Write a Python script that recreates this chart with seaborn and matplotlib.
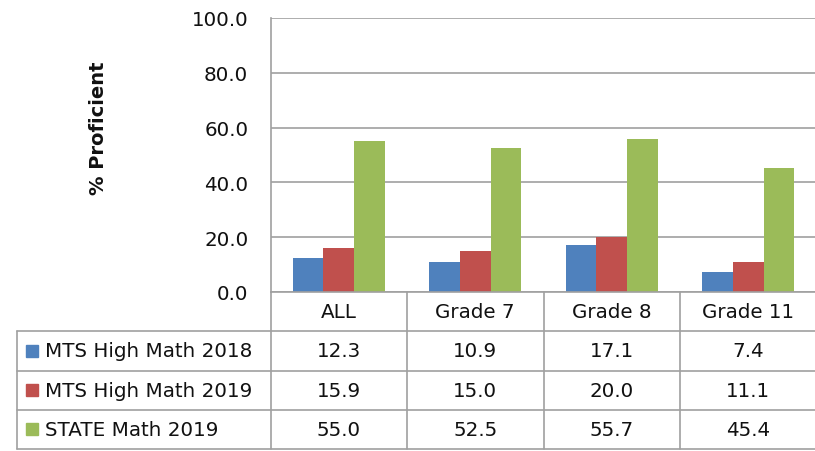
import pandas as pd
import matplotlib
matplotlib.use("Agg")
import matplotlib.pyplot as plt
import seaborn as sns

# data
categories = ['ALL', 'Grade 7', 'Grade 8', 'Grade 11']
series = ['MTS High Math 2018', 'MTS High Math 2019', 'STATE Math 2019']
mts_2018 = [12.3, 10.9, 17.1, 7.4]
mts_2019 = [15.9, 15.0, 20.0, 11.1]
state_2019 = [55.0, 52.5, 55.7, 45.4]
colors = ['#4F81BD', '#C0504D', '#9BBB59']
yticks = [0, 20, 40, 60, 80, 100]

values = [mts_2018, mts_2019, state_2019]
df = pd.DataFrame({
    'Category': [c for s in series for c in categories],
    'Series': [s for s in series for c in categories],
    'Value': [v for vals in values for v in vals],
})

sns.set_theme(style="white")
plt.rcParams['font.family'] = ['DejaVu Sans']
grid_c = '#A0A0A0'
txt_c = '#111111'
fs = 14.3

W, H = 815, 452
fig = plt.figure(figsize=(W / 100, H / 100), dpi=100)

# plot area in pixels
left_px, right_px, top_px, bot_px = 270.5, 816.5, 19, 293
ax = fig.add_axes([left_px / W, 1 - bot_px / H, (right_px - left_px) / W, (bot_px - top_px) / H])
sns.barplot(data=df, x='Category', y='Value', hue='Series', order=categories,
            hue_order=series, palette=colors, width=0.675, gap=0,
            saturation=1, linewidth=0, legend=False, ax=ax)
ax.set_xlim(-0.5, 3.5)
ax.set_ylim(0, 100)
ax.set_yticks(yticks)
ax.set_yticklabels([f'{t:.1f}' for t in yticks], fontsize=fs, color=txt_c)
ax.tick_params(axis='y', length=0, pad=16)
ax.set_xticks([])
ax.set_xlabel('')
ax.set_ylabel('% Proficient', fontsize=14, fontweight='bold', color=txt_c)
ax.yaxis.set_label_coords((108 - left_px) / (right_px - left_px), (bot_px - 128) / (bot_px - top_px))
ax.grid(axis='y', color=grid_c, linewidth=1.2)
ax.set_axisbelow(True)
for side in ['top', 'right']:
    ax.spines[side].set_visible(False)
for side in ['left', 'bottom']:
    ax.spines[side].set_color(grid_c)
    ax.spines[side].set_linewidth(1.2)

# data table below the plot
tab_left, tab_bot = 17, 450
unit = (right_px - left_px) / 4
x0 = -0.5 - (left_px - tab_left) / unit
tab = fig.add_axes([tab_left / W, 1 - tab_bot / H, (right_px - tab_left) / W, (tab_bot - bot_px) / H])
tab.set_xlim(x0, 3.5)
tab.set_ylim(4, 0)
tab.axis('off')

lw = 1.2
for xb in [-0.5, 0.5, 1.5, 2.5, 3.5]:
    tab.plot([xb, xb], [0, 4], color=grid_c, lw=lw, clip_on=False)
tab.plot([x0, x0], [1, 4], color=grid_c, lw=lw, clip_on=False)
for yb in [1, 2, 3, 4]:
    tab.plot([x0, 3.5], [yb, yb], color=grid_c, lw=lw, clip_on=False)

for i, cat in enumerate(categories):
    tab.text(i, 0.5, cat, ha='center', va='center', fontsize=fs, color=txt_c)
for r, (name, vals, col) in enumerate(zip(series, values, colors)):
    yc = r + 1.5
    tab.plot([x0 + (32 - tab_left) / unit], [yc], marker='s', markersize=9,
             color=col, clip_on=False)
    tab.text(x0 + (45 - tab_left) / unit, yc, name, ha='left', va='center',
             fontsize=fs, color=txt_c)
    for i, v in enumerate(vals):
        tab.text(i, yc, f'{v:.1f}', ha='center', va='center', fontsize=fs, color=txt_c)

fig.savefig('out.png', dpi=100)
